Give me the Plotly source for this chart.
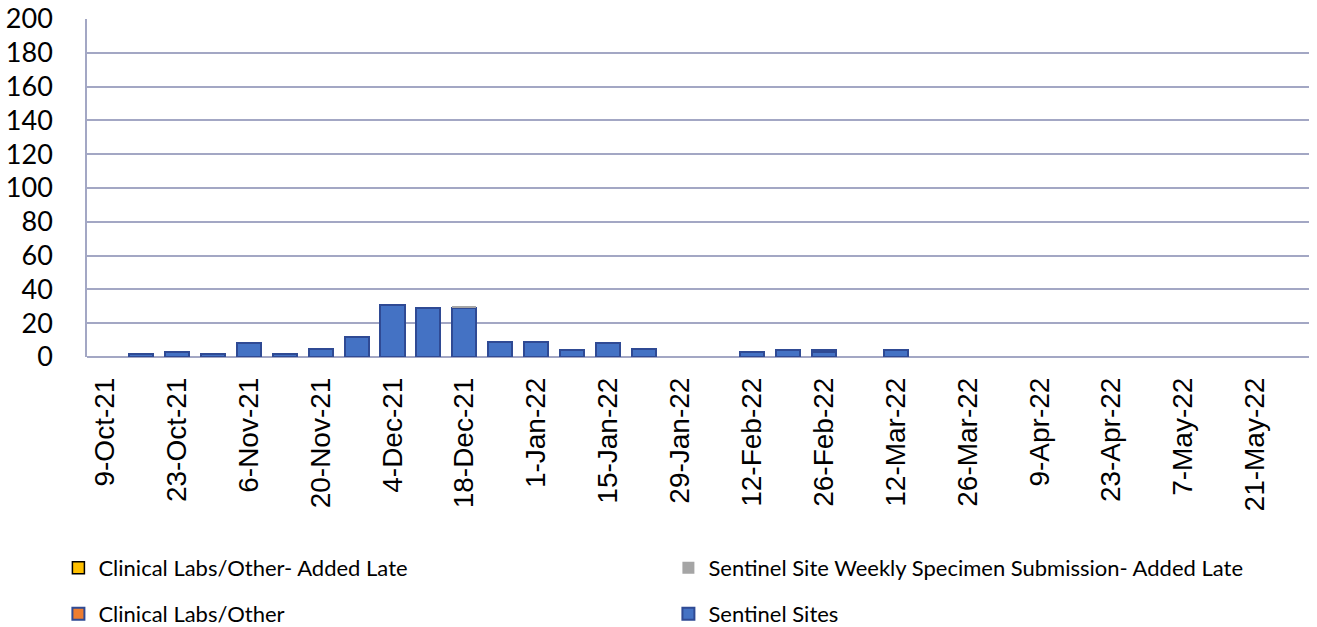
import plotly.graph_objects as go

weeks = ["9-Oct-21", "16-Oct-21", "23-Oct-21", "30-Oct-21", "6-Nov-21", "13-Nov-21",
         "20-Nov-21", "27-Nov-21", "4-Dec-21", "11-Dec-21", "18-Dec-21", "25-Dec-21",
         "1-Jan-22", "8-Jan-22", "15-Jan-22", "22-Jan-22", "29-Jan-22", "5-Feb-22",
         "12-Feb-22", "19-Feb-22", "26-Feb-22", "5-Mar-22", "12-Mar-22", "19-Mar-22",
         "26-Mar-22", "2-Apr-22", "9-Apr-22", "16-Apr-22", "23-Apr-22", "30-Apr-22",
         "7-May-22", "14-May-22", "21-May-22", "28-May-22"]

# None = no bar reported for that week
sentinel_sites = [None, 2, 3, 2, 8, 2, 5, 12, 31, 29, 29, 9, 9, 4, 8, 5, None, None,
                  3, 4, 3, None, 4, None, None, None, None, None, None, None, None, None, None, None]
clinical_labs = [None] * 20 + [1] + [None] * 13
sentinel_late = [None] * 10 + [1] + [None] * 23
clinical_late = [None] * 34

tick_labels = weeks[::2]

fig = go.Figure()
fig.add_trace(go.Bar(x=weeks, y=sentinel_sites, name="Sentinel Sites",
                     marker=dict(color="#4472C4", line=dict(color="#2F4A94", width=2)),
                     legend="legend2", legendrank=2))
fig.add_trace(go.Bar(x=weeks, y=clinical_labs, name="Clinical Labs/Other",
                     marker=dict(color="#ED7D31", line=dict(color="#2F4A94", width=2)),
                     legend="legend2", legendrank=1))
fig.add_trace(go.Bar(x=weeks, y=sentinel_late, name="Sentinel Site Weekly Specimen Submission- Added Late",
                     marker=dict(color="#A5A5A5", line=dict(color="#A5A5A5", width=0)),
                     legend="legend", legendrank=2))
fig.add_trace(go.Bar(x=weeks, y=clinical_late, name="Clinical Labs/Other- Added Late",
                     marker=dict(color="#FFC000", line=dict(color="#000000", width=1.5)),
                     legend="legend", legendrank=1))

grid = "#A3A7C4"
legend_common = dict(orientation="h", xanchor="left", yanchor="middle", x=-0.0234,
                     entrywidth=565, entrywidthmode="pixels", itemwidth=30,
                     font=dict(family="Lato", size=22, color="#000000"),
                     bgcolor="rgba(0,0,0,0)", traceorder="normal")

fig.update_layout(
    width=1317, height=627,
    margin=dict(l=87, r=8, t=19, b=270, autoexpand=False),
    paper_bgcolor="white", plot_bgcolor="white",
    barmode="stack", bargap=0.33,
    showlegend=True,
    legend=dict(y=-0.624, **legend_common),
    legend2=dict(y=-0.760, **legend_common),
    xaxis=dict(type="category", categoryorder="array", categoryarray=weeks,
               tickmode="array", tickvals=tick_labels, ticktext=tick_labels,
               tickangle=-90, ticks="", ticklabelstandoff=14, automargin=False,
               tickfont=dict(family="Liberation Sans", size=28, color="#000000"),
               showgrid=False, showline=False, zeroline=False),
    yaxis=dict(range=[0, 200], dtick=20, tick0=0, ticks="", automargin=False,
               tickfont=dict(family="Lato", size=27, color="#000000"),
               ticklabelstandoff=27,
               showgrid=True, gridcolor=grid, gridwidth=1.5,
               showline=True, linecolor=grid, linewidth=1.5,
               zeroline=True, zerolinecolor=grid, zerolinewidth=1.5),
)

fig.write_html("out.html", config={"displayModeBar": False},
               post_script="document.body.style.margin='0';")
